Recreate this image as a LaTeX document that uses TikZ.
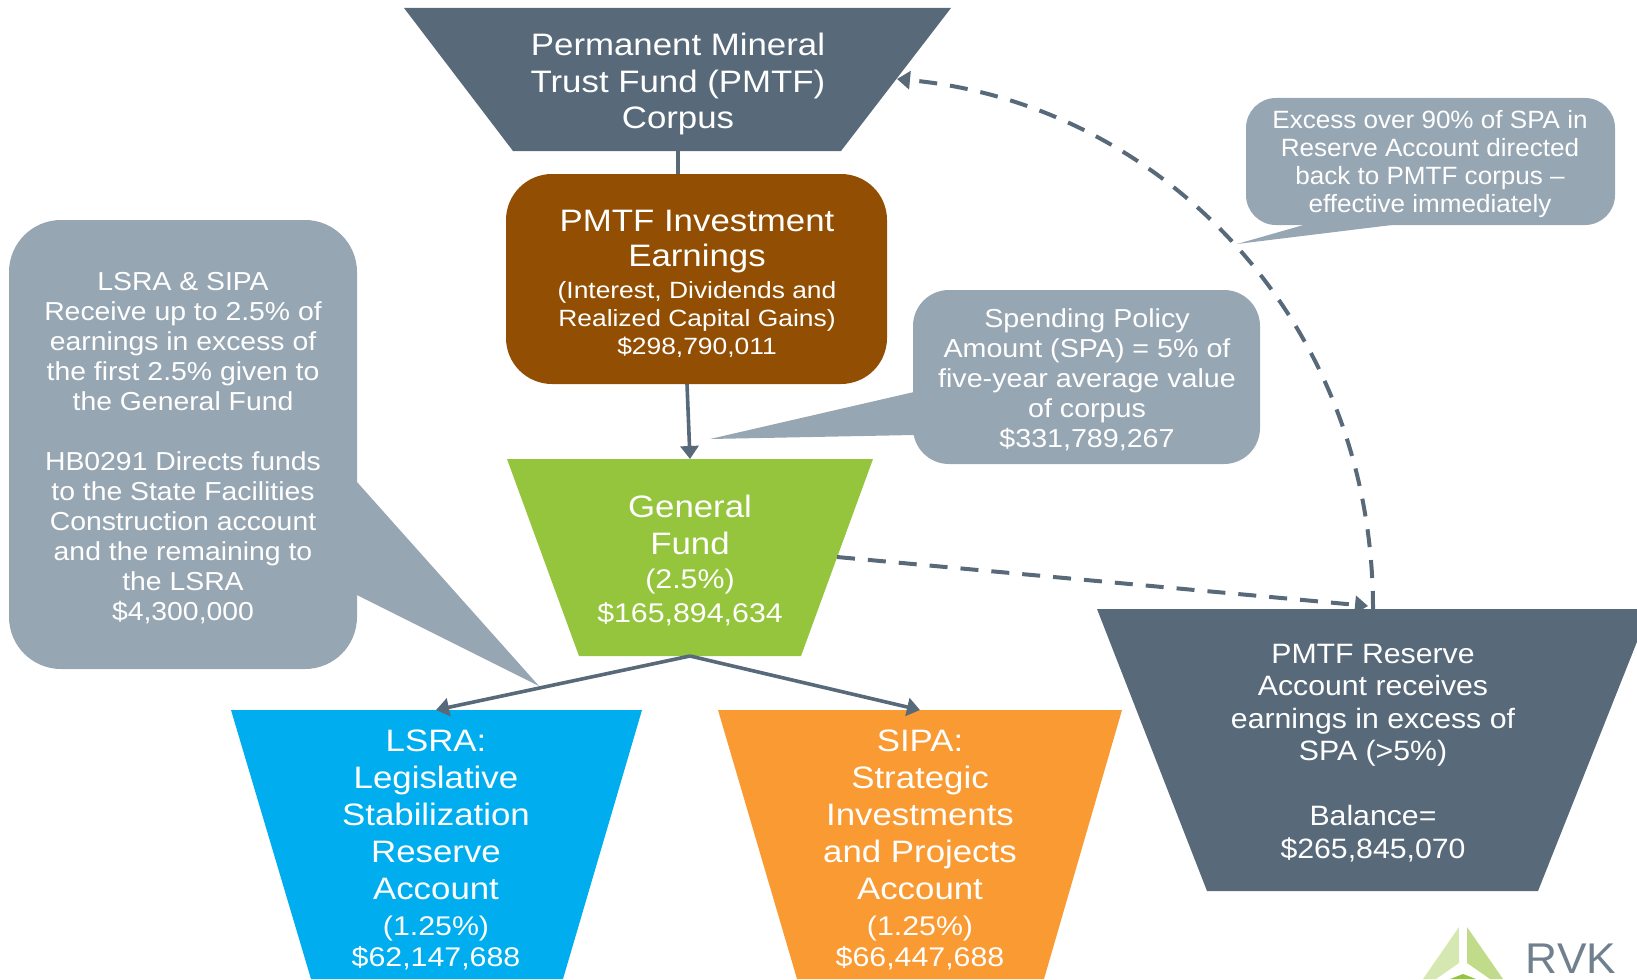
\documentclass[tikz,border=0pt]{standalone}
\usepackage{fontspec}
\setmainfont{Liberation Sans}
\usetikzlibrary{arrows.meta}
\definecolor{slateb}{HTML}{586A7A}
\definecolor{callg}{HTML}{97A6B3}
\definecolor{brownb}{HTML}{924F03}
\definecolor{greenb}{HTML}{95C53C}
\definecolor{blueb}{HTML}{00AEEF}
\definecolor{orangeb}{HTML}{FA9A33}
\newcommand{\fA}{\fontsize{31}{36.5}\selectfont}
\newcommand{\fB}{\fontsize{27}{33}\selectfont}
\newcommand{\fC}{\fontsize{23.5}{28}\selectfont}
\tikzset{
  lab/.style={text=white,align=center,inner sep=0pt,xscale=1.08},
  big/.style={lab,xscale=1.04,font=\fA},
  mid/.style={lab,font=\fontsize{26}{30}\selectfont},
  link/.style={draw=slateb,line width=3.6pt,-{Triangle[length=13pt,width=18pt]}},
  dashlink/.style={draw=slateb,line width=4pt,dash pattern=on 18pt off 13pt,-{Triangle[length=13pt,width=18pt]}},
}
\begin{document}
\begin{tikzpicture}[x=1pt,y=-1pt]
\useasboundingbox (0,0) rectangle (1637,979);
\begin{scope}
\clip (0,0) rectangle (1637,979);
% callout shapes
\fill[callg,rounded corners=52pt] (9,220) rectangle (357,669);
\fill[callg] (357,482) -- (539,686) -- (357,595) -- cycle;
\fill[callg,rounded corners=36pt] (913,290) rectangle (1260,464);
\fill[callg] (914,392) -- (710,439) -- (914,435) -- cycle;
\fill[callg,rounded corners=30pt] (1246,98) rectangle (1615,225);
\fill[callg] (1400,224) -- (1237,244) -- (1307,224) -- cycle;
% funnels
\path[fill=slateb] (404,8) -- (951,8) -- (841,151) -- (513,151) -- cycle;
\coordinate (topb) at (678,151);
\node[big] (pmtf) at (678,84) {Permanent Mineral\\Trust Fund (PMTF)\\Corpus};
\path[fill=brownb,rounded corners=46pt] (506,174) rectangle (887,384);
\coordinate (invt) at (678,174);
\coordinate (invb) at (687,384);
\node[big] (inv) at (697,284) {PMTF Investment\\[-1.5pt]Earnings\\[-5pt]\fC (Interest, Dividends and\\[-8.5pt]\fC Realized Capital Gains)\\[-8.5pt]\fC \$298,790,011};
\path[fill=greenb] (507,459) -- (873,459) -- (801,656) -- (579,656) -- cycle;
\coordinate (gft) at (690,459);
\coordinate (gfb) at (690,656);
\coordinate (gfr) at (837,557);
\node[big] (gf) at (690,560.5) {General\\Fund\\[-2pt]\fB (2.5\%)\\[-3pt]\fB \$165,894,634};
\path[fill=blueb] (231,710) -- (642,710) -- (563,979) -- (311,979) -- cycle;
\coordinate (lt) at (436,710);
\node[big] (lsra) at (436,850) {LSRA:\\[0.5pt]Legislative\\[0.5pt]Stabilization\\[0.5pt]Reserve\\[0.5pt]Account\\[-1pt]\fB (1.25\%)\\[-5pt]\fB \$62,147,688};
\path[fill=orangeb] (718,710) -- (1122,710) -- (1044,979) -- (797,979) -- cycle;
\coordinate (st) at (920,710);
\node[big] (sipa) at (920,850) {SIPA:\\[0.5pt]Strategic\\[0.5pt]Investments\\[0.5pt]and Projects\\[0.5pt]Account\\[-1pt]\fB (1.25\%)\\[-5pt]\fB \$66,447,688};
\path[fill=slateb] (1097,609) -- (1650,609) -- (1538,891) -- (1207,891) -- cycle;
\coordinate (rt) at (1373,609);
\coordinate (rtb) at (1368,606);
\node[lab,font=\fontsize{28}{32.5}\selectfont] (res) at (1373,753) {PMTF Reserve\\Account receives\\earnings in excess of\\SPA (>5\%)\\[32.5pt]Balance=\\\$265,845,070};
% callout text
\node[mid,xscale=1.01] (c1) at (183,448) {LSRA \& SIPA\\Receive up to 2.5\% of\\earnings in excess of\\the first 2.5\% given to\\the General Fund\\[30pt]HB0291 Directs funds\\to the State Facilities\\Construction account\\and the remaining to\\the LSRA\\\$4,300,000};
\node[mid,xscale=1.02] (c2) at (1087,380) {Spending Policy\\Amount (SPA) = 5\% of\\five-year average value\\of corpus\\\$331,789,267};
\node[lab,xscale=0.965,font=\fontsize{25}{28}\selectfont] (c3) at (1430,164.5) {Excess over 90\% of SPA in\\Reserve Account directed\\back to PMTF corpus --\\effective immediately};
% connectors
\draw[draw=slateb,line width=3.6pt] (topb) -- (invt);
\draw[link] (invb) -- (gft);
\draw[link] (gfb) -- (lt);
\draw[link] (gfb) -- (st);
\draw[dashlink] (gfr) -- (rtb);
\coordinate (pmtfr) at (897,79);
\draw[dashlink] (rt) .. controls (1373,319) and (1159,103) .. (pmtfr);
% logo
\fill[greenb!40!white] (1459,927) -- (1459,963) -- (1436,979) -- (1423,979) -- cycle;
\fill[greenb!60!white] (1467,927) -- (1467,963) -- (1490,979) -- (1503,979) -- cycle;
\fill[greenb] (1463,974) -- (1476,979) -- (1450,979) -- cycle;
\end{scope}
\node[text=slateb!85!white,xscale=1.03,font=\fontsize{43}{43}\selectfont,inner sep=0pt] (logo) at (1571,959) {RVK};
\end{tikzpicture}
\end{document}
